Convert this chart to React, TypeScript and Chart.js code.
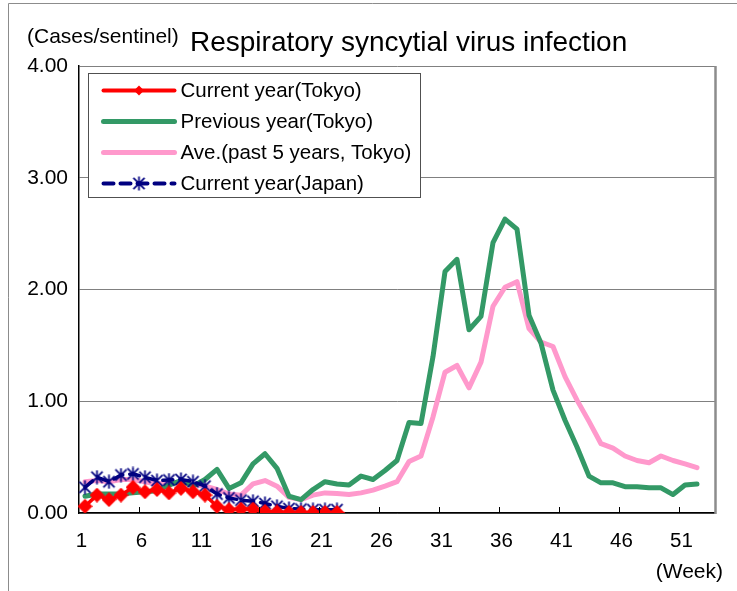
import React, { useEffect, useRef } from 'react';
import { Chart, registerables } from 'chart.js';

Chart.register(...registerables);

// ---- Data ----
const weekLabels = [
  '1', '2', '3', '4', '5', '6', '7', '8', '9', '10',
  '11', '12', '13', '14', '15', '16', '17', '18', '19', '20',
  '21', '22', '23', '24', '25', '26', '27', '28', '29', '30',
  '31', '32', '33', '34', '35', '36', '37', '38', '39', '40',
  '41', '42', '43', '44', '45', '46', '47', '48', '49', '50',
  '51', '52', '53',
];

const currentYearTokyo = [
  0.06, 0.16, 0.12, 0.16, 0.23, 0.19, 0.21, 0.18, 0.22, 0.19,
  0.16, 0.06, 0.03, 0.035, 0.035, 0.015, 0.01, 0.005, 0.005, 0.005,
  0.005, 0.005,
];

const previousYearTokyo = [
  0.15, 0.17, 0.17, 0.17, 0.18, 0.19, 0.2, 0.25, 0.29, 0.24,
  0.3, 0.39, 0.22, 0.27, 0.44, 0.53, 0.4, 0.15, 0.12, 0.21,
  0.28, 0.26, 0.25, 0.33, 0.3, 0.38, 0.47, 0.81, 0.8, 1.4,
  2.16, 2.27, 1.64, 1.76, 2.42, 2.63, 2.54, 1.77, 1.52, 1.1,
  0.83, 0.59, 0.33, 0.27, 0.27, 0.235, 0.235, 0.225, 0.225, 0.165,
  0.25, 0.26,
];

const avgPast5YearsTokyo = [
  0.28, 0.29, 0.28, 0.3, 0.3, 0.28, 0.26, 0.27, 0.27, 0.26,
  0.24, 0.21, 0.17, 0.16, 0.26, 0.29, 0.24, 0.14, 0.12, 0.16,
  0.18, 0.175, 0.165, 0.18, 0.205, 0.24, 0.28, 0.46, 0.51, 0.86,
  1.26, 1.32, 1.12, 1.35, 1.85, 2.02, 2.07, 1.65, 1.53, 1.49,
  1.22, 1.01, 0.82, 0.62, 0.58, 0.51, 0.47, 0.45, 0.51, 0.47,
  0.44, 0.405,
];

const currentYearJapan = [
  0.23, 0.32, 0.28, 0.34, 0.35, 0.32, 0.29, 0.295, 0.3, 0.28,
  0.24, 0.17, 0.135, 0.115, 0.105, 0.085, 0.06, 0.04, 0.035, 0.03,
  0.03, 0.03,
];

const seriesNames = [
  'Current year(Tokyo)',
  'Previous year(Tokyo)',
  'Ave.(past 5 years, Tokyo)',
  'Current year(Japan)',
];

const yMin = 0;
const yMax = 4;
const yStep = 1;

const titleText = 'Respiratory syncytial virus infection';
const yUnitText = '(Cases/sentinel)';
const xUnitText = '(Week)';

const FONT = '"Liberation Sans", Arial, sans-serif';

function makeAsterisk(size: number, color: string, lw: number) {
  const c = document.createElement('canvas');
  c.width = size;
  c.height = size;
  const g = c.getContext('2d')!;
  g.strokeStyle = color;
  g.lineWidth = lw;
  const m = size / 2;
  const r = size / 2 - 0.5;
  const d = r * 0.8;
  g.beginPath();
  g.moveTo(m, m - r);
  g.lineTo(m, m + r);
  g.moveTo(m - d, m - d);
  g.lineTo(m + d, m + d);
  g.moveTo(m + d, m - d);
  g.lineTo(m - d, m + d);
  g.stroke();
  return c;
}

function drawDiamond(ctx: CanvasRenderingContext2D, x: number, y: number, r: number, color: string) {
  ctx.beginPath();
  ctx.moveTo(x - r, y);
  ctx.lineTo(x, y - r);
  ctx.lineTo(x + r, y);
  ctx.lineTo(x, y + r);
  ctx.closePath();
  ctx.fillStyle = color;
  ctx.fill();
}

function makeDiamond(size: number, color: string) {
  const c = document.createElement('canvas');
  c.width = size;
  c.height = size;
  const g = c.getContext('2d')!;
  drawDiamond(g, size / 2, size / 2, size / 2, color);
  return c;
}

const decorPlugin = {
  id: 'decor',
  beforeDraw(chart: any) {
    const { ctx, width, height } = chart;
    ctx.save();
    ctx.fillStyle = '#ffffff';
    ctx.fillRect(0, 0, width, height);
    ctx.strokeStyle = '#8c8c8c';
    ctx.lineWidth = 1;
    ctx.beginPath();
    ctx.moveTo(8.5, height);
    ctx.lineTo(8.5, 3.5);
    ctx.lineTo(width, 3.5);
    ctx.stroke();
    ctx.restore();
  },
  afterDraw(chart: any) {
    const { ctx, chartArea } = chart;
    const xs = chart.scales.x;
    ctx.save();

    // right border of the plot area
    ctx.strokeStyle = '#8c8c8c';
    ctx.lineWidth = 2.5;
    ctx.beginPath();
    ctx.moveTo(chartArea.right + 0.5, chartArea.top);
    ctx.lineTo(chartArea.right + 0.5, chartArea.bottom + 1);
    ctx.stroke();

    // inward tick marks at category boundaries, every 5 weeks
    const half = (xs.getPixelForValue(1) - xs.getPixelForValue(0)) / 2;
    ctx.strokeStyle = '#000000';
    ctx.lineWidth = 1;
    ctx.beginPath();
    for (let i = 5; i < weekLabels.length; i += 5) {
      const x = Math.round(xs.getPixelForValue(i) - half) + 0.5;
      ctx.moveTo(x, chartArea.bottom);
      ctx.lineTo(x, chartArea.bottom - 6);
    }
    ctx.stroke();

    // texts
    ctx.fillStyle = '#000000';
    ctx.textBaseline = 'middle';
    ctx.textAlign = 'left';
    ctx.font = `21px ${FONT}`;
    ctx.fillText(yUnitText, 27, 37);
    ctx.font = `28px ${FONT}`;
    ctx.fillText(titleText, 190, 43);
    ctx.font = `21px ${FONT}`;
    ctx.textAlign = 'right';
    ctx.fillText(xUnitText, 723, 572);

    // legend
    const bx = chartArea.left + 9.5;
    const by = chartArea.top + 7.5;
    const bw = 332;
    const bh = 124;
    ctx.fillStyle = '#ffffff';
    ctx.fillRect(bx, by, bw, bh);
    ctx.strokeStyle = '#505050';
    ctx.lineWidth = 1;
    ctx.strokeRect(bx, by, bw, bh);

    const rowY0 = by + 17;
    const rowGap = 31;
    const lx0 = bx + 15;
    const lx1 = bx + 86;
    chart.data.datasets.forEach((ds: any, i: number) => {
      const y = rowY0 + i * rowGap;
      ctx.save();
      ctx.strokeStyle = ds.borderColor;
      ctx.lineWidth = Math.max(ds.borderWidth, 4);
      ctx.lineCap = 'round';
      ctx.setLineDash(ds.borderDash || []);
      ctx.beginPath();
      ctx.moveTo(lx0, y);
      ctx.lineTo(lx1, y);
      ctx.stroke();
      ctx.restore();
      const mx = (lx0 + lx1) / 2;
      if (ds.legendMarker === 'diamond') {
        drawDiamond(ctx, mx, y, 5, ds.borderColor);
      } else if (ds.pointStyle && typeof ds.pointStyle === 'object') {
        const img = ds.pointStyle;
        ctx.drawImage(img, mx - img.width / 2, y - img.height / 2);
      }
      ctx.fillStyle = '#000000';
      ctx.textAlign = 'left';
      ctx.textBaseline = 'middle';
      ctx.font = `20.5px ${FONT}`;
      ctx.fillText(ds.label, lx1 + 6, y + 1);
    });

    ctx.restore();
  },
};

export default function App() {
  const canvasRef = useRef<HTMLCanvasElement | null>(null);

  useEffect(() => {
    const canvas = canvasRef.current;
    if (!canvas) return;
    const asterisk = makeAsterisk(15, '#000080', 1.7);
    const diamond = makeDiamond(15, '#ff0000');

    const chart = new Chart(canvas, {
      type: 'line',
      data: {
        labels: weekLabels,
        datasets: [
          {
            label: seriesNames[0],
            data: currentYearTokyo,
            borderColor: '#ff0000',
            backgroundColor: '#ff0000',
            borderWidth: 3.5,
            pointStyle: diamond,
            pointRadius: 7.5,
            legendMarker: 'diamond',
            order: 0,
          } as any,
          {
            label: seriesNames[1],
            data: previousYearTokyo,
            borderColor: '#339966',
            backgroundColor: '#339966',
            borderWidth: 5,
            pointRadius: 0,
            borderCapStyle: 'round',
            borderJoinStyle: 'round',
            order: 2,
          },
          {
            label: seriesNames[2],
            data: avgPast5YearsTokyo,
            borderColor: '#ff99cc',
            backgroundColor: '#ff99cc',
            borderWidth: 5,
            pointRadius: 0,
            borderCapStyle: 'round',
            borderJoinStyle: 'round',
            order: 3,
          },
          {
            label: seriesNames[3],
            data: currentYearJapan,
            borderColor: '#000080',
            backgroundColor: '#000080',
            borderWidth: 3.5,
            borderDash: [10, 7],
            borderCapStyle: 'round',
            pointStyle: asterisk,
            pointRadius: 7.5,
            order: 1,
          },
        ],
      },
      options: {
        responsive: false,
        animation: false,
        events: [],
        layout: { padding: { left: 0, top: 66, right: 22, bottom: 0 } },
        plugins: {
          legend: { display: false },
          title: { display: false },
          tooltip: { enabled: false },
        },
        scales: {
          x: {
            type: 'category',
            offset: true,
            grid: { display: false, drawTicks: false },
            border: { display: true, color: '#000000', width: 1.5 },
            ticks: {
              autoSkip: false,
              maxRotation: 0,
              minRotation: 0,
              padding: 16,
              labelOffset: -3.5,
              color: '#000000',
              font: { size: 20.5, family: FONT },
              callback: (_v: any, idx: number) => (idx % 5 === 0 ? weekLabels[idx] : ''),
            },
            afterFit: (scale: any) => {
              scale.height = 78;
            },
          },
          y: {
            min: yMin,
            max: yMax,
            grid: { color: '#808080', lineWidth: 1, drawTicks: false },
            border: { display: true, color: '#000000', width: 1.5 },
            ticks: {
              stepSize: yStep,
              padding: 11,
              color: '#000000',
              font: { size: 21, family: FONT },
              callback: (v: any) => Number(v).toFixed(2),
            },
            afterFit: (scale: any) => {
              scale.width = 79;
            },
          },
        },
      },
      plugins: [decorPlugin],
    });

    return () => {
      chart.destroy();
    };
  }, []);

  return (
    <div style={{ position: 'absolute', left: 0, top: 0, width: 737, height: 591 }}>
      <canvas ref={canvasRef} width={737} height={591} style={{ width: 737, height: 591, display: 'block' }} />
    </div>
  );
}
